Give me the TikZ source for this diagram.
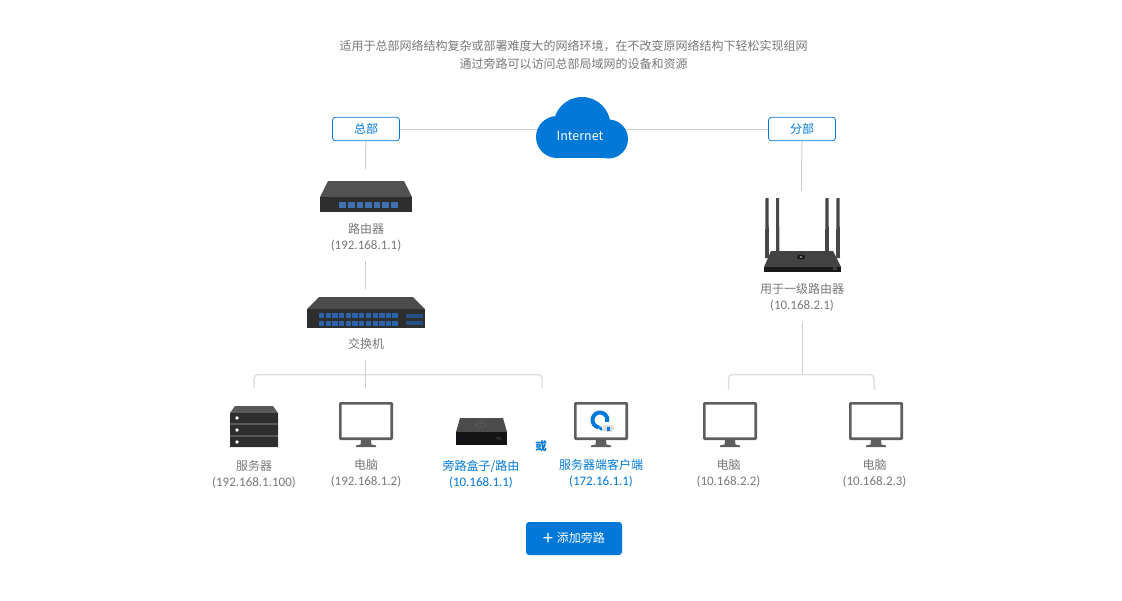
\documentclass[tikz,border=0pt]{standalone}
\usepackage{fontspec}
\setmainfont{Noto Sans CJK SC}
\newfontfamily\ipfont{Carlito}
\definecolor{brandblue}{HTML}{0078D7}
\definecolor{textgrey}{HTML}{777777}
\definecolor{linegrey}{HTML}{CDCDCD}
\definecolor{busgrey}{HTML}{DEDEDE}
\definecolor{portblue}{HTML}{2A63A8}
\definecolor{screengrey}{HTML}{5E5E5E}
\newcommand{\ipaddr}[1]{{\ipfont\fontsize{13}{16}\selectfont #1}}
\tikzset{
	devlabel/.style={text=textgrey, align=center, font=\fontsize{12}{16}\selectfont, inner sep=0pt},
	bluelabel/.style={devlabel, text=brandblue},
	sitebox/.style={draw=brandblue, rounded corners=3pt, minimum width=67pt, minimum height=23.5pt, text=brandblue, font=\fontsize{12}{14}\selectfont, inner sep=0pt, line width=0.8pt},
	wire/.style={draw=linegrey, line width=1pt},
	bus/.style={draw=busgrey, line width=1.5pt, rounded corners=4pt},
	pics/monitor/.style={code={
		\draw[screengrey, line width=2.6pt, fill=white, rounded corners=0.6pt] (-25.7,-17.7) rectangle (25.7,17.7);
		\fill[screengrey] (-5,19) -- (5,19) -- (5.5,23.5) -- (10,24.5) -- (10,26) -- (-10,26) -- (-10,24.5) -- (-5.5,23.5) -- cycle;
	}},
}
\begin{document}
\begin{tikzpicture}[x=1pt, y=-1pt]
	\useasboundingbox (0,0) rectangle (1122,600);

	% heading
	\draw (573.5,55) node[devlabel, font=\fontsize{12}{18}\selectfont] (intro) {适用于总部网络结构复杂或部署难度大的网络环境，在不改变原网络结构下轻松实现组网\\通过旁路可以访问总部局域网的设备和资源};

	% sites and cloud
	\draw (366,129) node[sitebox] (hq) {总部};
	\draw (802,129) node[sitebox] (branch) {分部};
	\coordinate (cloudc) at (582,129);
	\coordinate (hqend) at (365.5,169);
	\coordinate (branchend) at (801.5,191);
	\draw[wire] (hq) -- (cloudc);
	\draw[wire] (branch) -- (cloudc);
	\draw[wire] (hq) -- (hqend);
	\draw[wire] (branch) -- (branchend);
	\fill[brandblue] (557,137) circle (21);
	\fill[brandblue] (582,125.5) circle (28.5);
	\fill[brandblue] (608.5,139) circle (19.5);
	\fill[brandblue] (557,128) rectangle (609,158);
	\draw (580,135.5) node[text=white, font=\fontsize{12.5}{14}\selectfont, inner sep=0pt] (internet) {Internet};

	% router
	\fill[black!68] (328,181) -- (404,181) -- (412,197) -- (320,197) -- cycle;
	\fill[black!82] (320,197) rectangle (412,212);
	\foreach \i in {0,...,6}
		\fill[portblue!90!white] (339.3+8.6*\i,202) rectangle +(6.6,6);
	\draw (366,237) node[devlabel] (routerlabel) {路由器\\\ipaddr{(192.168.1.1)}};

	% switch
	\coordinate (routerend) at (365.5,261);
	\coordinate (switchtop) at (365.5,289);
	\draw[wire] (routerend) -- (switchtop);
	\fill[black!70] (319,297) -- (413,297) -- (425,309) -- (307,309) -- cycle;
	\fill[black!82] (307,309) rectangle (425,328);
	\foreach \g in {0,1,2}
		\foreach \i in {0,1,2,3}
			\foreach \r in {313,321}
				\fill[portblue] (319+26.8*\g+6.6*\i,\r) rectangle +(5.4,5);
	\foreach \r in {314,321}
		\fill[portblue!80!black] (406,\r) rectangle +(17,4.2);
	\draw (366,344) node[devlabel] (switchlabel) {交换机};

	% left bus
	\coordinate (switchend) at (365.5,360);
	\coordinate (busmid) at (365.5,388);
	\coordinate (busleft) at (254,388);
	\coordinate (busright) at (542,388);
	\draw[bus] (busleft) -- (254,374.5) -- (542,374.5) -- (busright);
	\draw[wire] (switchend) -- (busmid);

	% server
	\fill[black!65] (235,406) -- (273,406) -- (278,413) -- (278,447) -- (230,447) -- (230,413) -- cycle;
	\foreach \r in {413,425,437} {
		\fill[black!82] (230,\r) rectangle +(48,10);
		\fill[white] (237,\r+5) circle (1.9);
	}
	\draw (254,474) node[devlabel] (serverlabel) {服务器\\\ipaddr{(192.168.1.100)}};

	% monitors
	\draw (366,421) pic {monitor};
	\draw (366,473) node[devlabel] (pclabel) {电脑\\\ipaddr{(192.168.1.2)}};

	% bypass box
	\fill[black!70] (460,418) -- (503,418) -- (507,432) -- (456,432) -- cycle;
	\draw[black!60] (481,425) ellipse (5 and 2.5);
	\fill[black!92] (456,432) rectangle (507,445);
	\fill[blue!60!black] (461,439) circle (0.7);
	\draw (499,439) node[text=black!60, font=\fontsize{4}{4}\selectfont, inner sep=0pt] (boxmark) {P5};
	\draw (481,474) node[bluelabel] (boxlabel) {旁路盒子/路由\\\ipaddr{(10.168.1.1)}};
	\draw (541,446) node[text=brandblue, font=\fontsize{11.5}{12}\selectfont\bfseries, inner sep=0pt] (orlabel) {或};

	% client monitor
	\draw (601,421) pic {monitor};
	\draw[brandblue, line width=4pt] (600,420) ++(100:7.5) arc (100:375:7.5);
	\fill[brandblue] (597,426) -- (603,427) -- (604,431) -- (600,430) -- cycle;
	\fill[white] (608,428) circle (6);
	\fill[black!14] (608.5,428.5) ellipse (6 and 3.8);
	\fill[brandblue] (606.5,426.5) rectangle +(3.6,4);
	\draw (601,473) node[bluelabel] (clientlabel) {服务器端客户端\\\ipaddr{(172.16.1.1)}};

	% wireless router
	\foreach \a/\b/\c/\d in {765.5/768.5/765/769,776/779/776/779.5,825.5/828.5/825/829,836.5/839.5/836/840}
		\fill[black!72] (\a,198) -- (\b,198) -- (\d,258) -- (\c,258) -- cycle;
	\fill[black!74] (771,251) -- (833,251) -- (841,267) -- (764,267) -- cycle;
	\fill[black!90] (764,267) rectangle (841,272);
	\fill[black!90] (801,257) ellipse (4 and 2.5);
	\fill[black!45] (801,257) ellipse (1.6 and 1);
	\draw (835,269.5) node[text=black!50, font=\fontsize{4}{4}\selectfont, inner sep=0pt] (wifimark) {X5};
	\draw (802,297) node[devlabel] (wifilabel) {用于一级路由器\\\ipaddr{(10.168.2.1)}};

	% right bus
	\coordinate (wifiend) at (802,322);
	\coordinate (rbusmid) at (802,374);
	\coordinate (rbusleft) at (728.5,390);
	\coordinate (rbusright) at (874,390);
	\draw[bus] (rbusleft) -- (728.5,374.5) -- (874,374.5) -- (rbusright);
	\draw[wire] (wifiend) -- (rbusmid);

	\draw (730,421) pic {monitor};
	\draw (728.5,473) node[devlabel] (pcalabel) {电脑\\\ipaddr{(10.168.2.2)}};
	\draw (876,421) pic {monitor};
	\draw (874.5,473) node[devlabel] (pcblabel) {电脑\\\ipaddr{(10.168.2.3)}};

	% add button
	\draw (574,538.5) node[fill=brandblue, text=white, rounded corners=3pt, minimum width=96pt, minimum height=33pt, inner sep=0pt, font=\fontsize{12}{14}\selectfont] (addbtn) {\raisebox{-1.5pt}{\ipfont\fontsize{20}{14}\selectfont +}\hspace{4pt}添加旁路};
\end{tikzpicture}
\end{document}
